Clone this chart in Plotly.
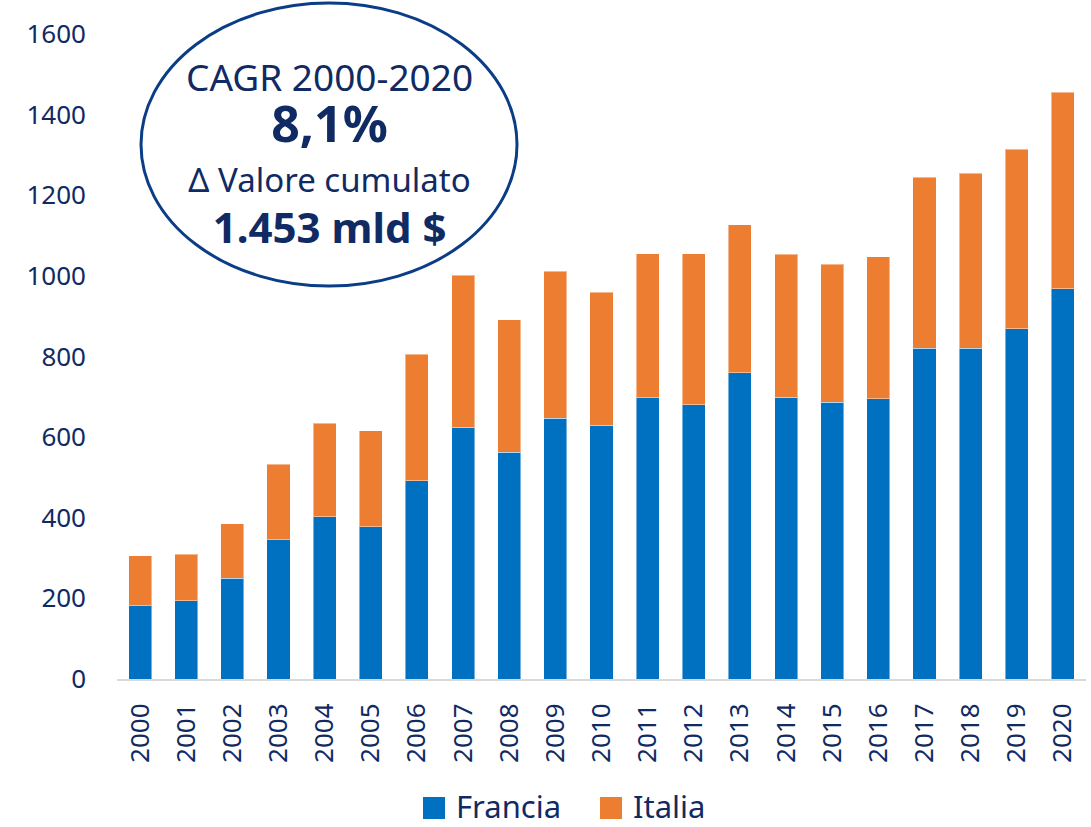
import plotly.graph_objects as go

years = [str(y) for y in range(2000, 2021)]
francia = [182, 194, 250, 345, 403, 378, 492, 624, 562, 647, 630, 698, 680, 760, 699, 687, 695, 820, 820, 869, 968]
totale = [306, 310, 385, 533, 634, 616, 806, 1001, 891, 1012, 959, 1055, 1055, 1127, 1054, 1029, 1047, 1245, 1255, 1314, 1455]
italia = [t - f for t, f in zip(totale, francia)]

y_ticks = [0, 200, 400, 600, 800, 1000, 1200, 1400, 1600]
series_names = ["Francia", "Italia"]
callout_lines = ["CAGR 2000-2020", "8,1%", "Δ Valore cumulato", "1.453 mld $"]

NAVY = "#102a63"
BLUE = "#0070C0"
ORANGE = "#ED7D31"
FONT = "Noto Sans"

fig = go.Figure()
fig.add_trace(go.Bar(x=years, y=francia, name=series_names[0], showlegend=False,
                     marker=dict(color=BLUE, line=dict(color="rgba(255,255,255,0.45)", width=1))))
fig.add_trace(go.Bar(x=years, y=italia, name=series_names[1], showlegend=False,
                     marker=dict(color=ORANGE, line=dict(color="rgba(255,255,255,0.45)", width=1))))

W, H = 1091, 827
L, R, T, B = 117, 5, 34, 148
pw, ph = W - L - R, H - T - B

def px(x):
    return (x - L) / pw

def py(y):
    return (H - B - y) / ph

fig.update_layout(
    barmode="stack",
    bargap=0.5,
    width=W, height=H,
    margin=dict(l=L, r=R, t=T, b=B, autoexpand=False),
    plot_bgcolor="white",
    paper_bgcolor="white",
    font=dict(family=FONT, color=NAVY),
    showlegend=False,
    xaxis=dict(type="category", tickangle=-90, tickfont=dict(size=26, color=NAVY),
               showline=True, linecolor="#d9d9d9", linewidth=2, ticks="", showgrid=False,
               ticklabelstandoff=12, automargin=False),
    yaxis=dict(range=[0, 1600], tickvals=y_ticks, tickfont=dict(size=26, color=NAVY),
               showgrid=False, zeroline=False, showline=False, ticks="",
               ticklabelstandoff=30, automargin=False),
)

# ellipse callout
fig.add_shape(type="circle", xref="paper", yref="paper",
              x0=px(141), x1=px(517), y0=py(286), y1=py(3),
              line=dict(color="#0b3d86", width=3), fillcolor="rgba(255,255,255,0)")

callout = (
    f"<span style='font-size:37px'>{callout_lines[0]}</span><br>"
    f"<span style='font-size:50px'><b>{callout_lines[1]}</b></span><br>"
    f"<span style='font-size:33px'>{callout_lines[2]}</span><br>"
    f"<span style='font-size:42px'><b>{callout_lines[3]}</b></span>"
)
fig.add_annotation(text=callout, xref="paper", yref="paper", x=px(329), y=py(153),
                   xanchor="center", yanchor="middle", showarrow=False, align="center",
                   font=dict(size=39, color=NAVY, family=FONT))

# legend (drawn)
legend_items = [(series_names[0], BLUE, 423), (series_names[1], ORANGE, 600)]
for name, col, x0 in legend_items:
    fig.add_shape(type="rect", xref="paper", yref="paper",
                  x0=px(x0), x1=px(x0 + 22), y0=py(819), y1=py(797),
                  fillcolor=col, line=dict(width=0))
    fig.add_annotation(text=name, xref="paper", yref="paper", x=px(x0 + 31), y=py(806),
                       xanchor="left", yanchor="middle", showarrow=False,
                       font=dict(size=31, color=NAVY, family=FONT))

fig.write_html("out.html", post_script="document.body.style.margin='0';",
               config={"displayModeBar": False})
